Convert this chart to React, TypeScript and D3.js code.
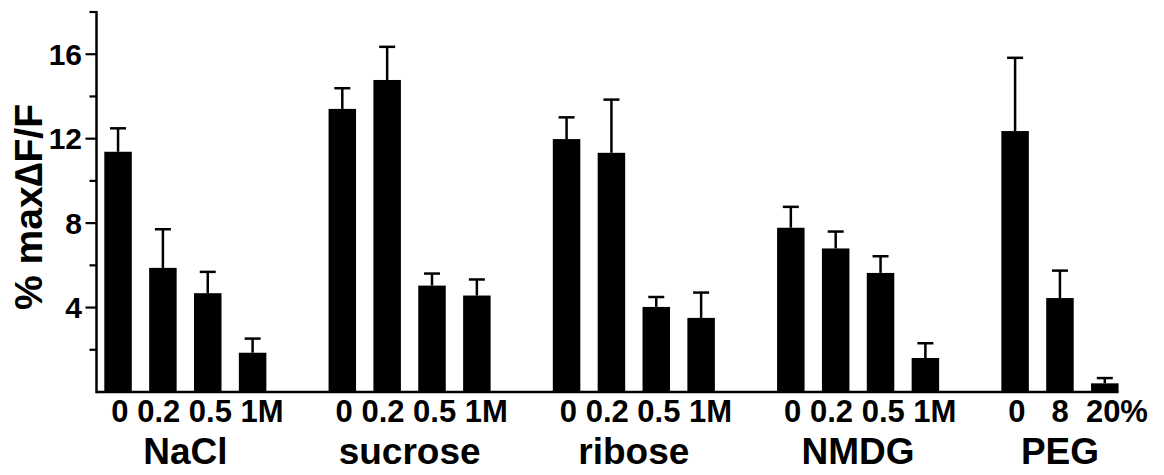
import React, { useRef, useEffect } from "react";
import * as d3 from "d3";

const W = 1164;
const H = 475;

const groups = ["NaCl", "sucrose", "ribose", "NMDG", "PEG"];
// concentration labels under each group, as printed
const doseLabels = [
    "0 0.2 0.5 1M",
    "0 0.2 0.5 1M",
    "0 0.2 0.5 1M",
    "0 0.2 0.5 1M",
    "0   8  20%",
];
const means = [
    [11.38, 5.88, 4.68, 1.86],
    [13.41, 14.78, 5.04, 4.57],
    [11.98, 11.33, 4.03, 3.51],
    [7.78, 6.8, 5.64, 1.61],
    [12.36, 4.45, 0.41],
];
const sems = [
    [1.11, 1.83, 1.01, 0.67],
    [0.98, 1.57, 0.57, 0.76],
    [1.03, 2.52, 0.47, 1.2],
    [0.99, 0.8, 0.79, 0.7],
    [3.47, 1.3, 0.25],
];
const majorTicks = [4, 8, 12, 16];
const minorTicks = [2, 6, 10, 14, 18];
const yLabel = "% max\u2206F/F";

const font = "'Liberation Sans', Arial, sans-serif";
const axisX = 96.5;
const baseY = 392;

function draw(ref) {
    const svg = d3.select(ref);
    svg.selectAll("*").remove();

    const y = d3.scaleLinear().domain([0, 18]).range([baseY, 12]);

    // groups laid out on a band scale, bars inside each group on another
    const xGroup = d3
        .scaleBand()
        .domain(groups)
        .range([104.3, 1163.4])
        .paddingInner(0.2774)
        .paddingOuter(0);
    const xBar = d3
        .scaleBand()
        .domain([0, 1, 2, 3])
        .range([0, xGroup.bandwidth()])
        .paddingInner(0.387)
        .paddingOuter(0);

    const bars = groups.flatMap((g, gi) =>
        means[gi].map((m, i) => ({
            g,
            i,
            mean: m,
            sem: sems[gi][i],
            x: xGroup(g) + xBar(i),
        }))
    );
    const bw = xBar.bandwidth();

    svg.append("g")
        .selectAll("rect")
        .data(bars)
        .enter()
        .append("rect")
        .attr("x", (d) => d.x)
        .attr("width", bw)
        .attr("y", (d) => y(d.mean))
        .attr("height", (d) => baseY - y(d.mean))
        .attr("fill", "#000");

    // upward error bars
    const gErr = svg
        .append("g")
        .attr("stroke", "#000")
        .attr("stroke-width", 2.5);
    gErr.selectAll("line.stem")
        .data(bars)
        .enter()
        .append("line")
        .attr("class", "stem")
        .attr("x1", (d) => d.x + bw / 2)
        .attr("x2", (d) => d.x + bw / 2)
        .attr("y1", (d) => y(d.mean))
        .attr("y2", (d) => y(d.mean + d.sem));
    gErr.selectAll("line.cap")
        .data(bars)
        .enter()
        .append("line")
        .attr("class", "cap")
        .attr("x1", (d) => d.x + bw / 2 - 8)
        .attr("x2", (d) => d.x + bw / 2 + 8)
        .attr("y1", (d) => y(d.mean + d.sem))
        .attr("y2", (d) => y(d.mean + d.sem));

    // axes
    const lastBar = bars[bars.length - 1];
    svg.append("line")
        .attr("x1", axisX)
        .attr("x2", lastBar.x + bw)
        .attr("y1", baseY)
        .attr("y2", baseY)
        .attr("stroke", "#000")
        .attr("stroke-width", 2.5);
    svg.append("line")
        .attr("x1", axisX)
        .attr("x2", axisX)
        .attr("y1", y(18) - 1)
        .attr("y2", baseY + 1.2)
        .attr("stroke", "#000")
        .attr("stroke-width", 2.5);

    const gTicks = svg.append("g").attr("stroke", "#000").attr("stroke-width", 2.2);
    gTicks.selectAll("line.major")
        .data(majorTicks)
        .enter()
        .append("line")
        .attr("x1", axisX - 11)
        .attr("x2", axisX)
        .attr("y1", (d) => y(d))
        .attr("y2", (d) => y(d));
    gTicks.selectAll("line.minor")
        .data(minorTicks)
        .enter()
        .append("line")
        .attr("x1", axisX - 7)
        .attr("x2", axisX)
        .attr("y1", (d) => y(d))
        .attr("y2", (d) => y(d));

    svg.append("g")
        .selectAll("text")
        .data(majorTicks)
        .enter()
        .append("text")
        .attr("x", 82)
        .attr("y", (d) => y(d))
        .attr("dy", "0.36em")
        .attr("text-anchor", "end")
        .attr("font-family", font)
        .attr("font-weight", "bold")
        .attr("font-size", 30)
        .text((d) => d);

    // y label
    svg.append("text")
        .attr("transform", "translate(42,207) rotate(-90)")
        .attr("text-anchor", "middle")
        .attr("font-family", font)
        .attr("font-weight", "bold")
        .attr("font-size", 39)
        .text(yLabel);

    // dose labels and group names
    svg.append("g")
        .selectAll("text")
        .data(groups)
        .enter()
        .append("text")
        .attr("x", (g) => xGroup(g) + 7)
        .attr("y", 421.5)
        .attr("font-family", font)
        .attr("font-weight", "bold")
        .attr("font-size", 31)
        .style("white-space", "pre")
        .text((g, gi) => doseLabels[gi]);

    svg.append("g")
        .selectAll("text")
        .data(groups)
        .enter()
        .append("text")
        .attr("x", (g, gi) => {
            const n = means[gi].length;
            return xGroup(g) + (xBar(n - 1) + bw) / 2;
        })
        .attr("y", 463.5)
        .attr("text-anchor", "middle")
        .attr("font-family", font)
        .attr("font-weight", "bold")
        .attr("font-size", 37)
        .text((g) => g);
}

export default function App() {
    const d3Ref = useRef(null);

    useEffect(() => {
        if (d3Ref.current) draw(d3Ref.current);
    }, []);

    return (
        <svg
            ref={d3Ref}
            width={W}
            height={H}
            style={{ position: "absolute", left: 0, top: 0, background: "#fff" }}
        />
    );
}
